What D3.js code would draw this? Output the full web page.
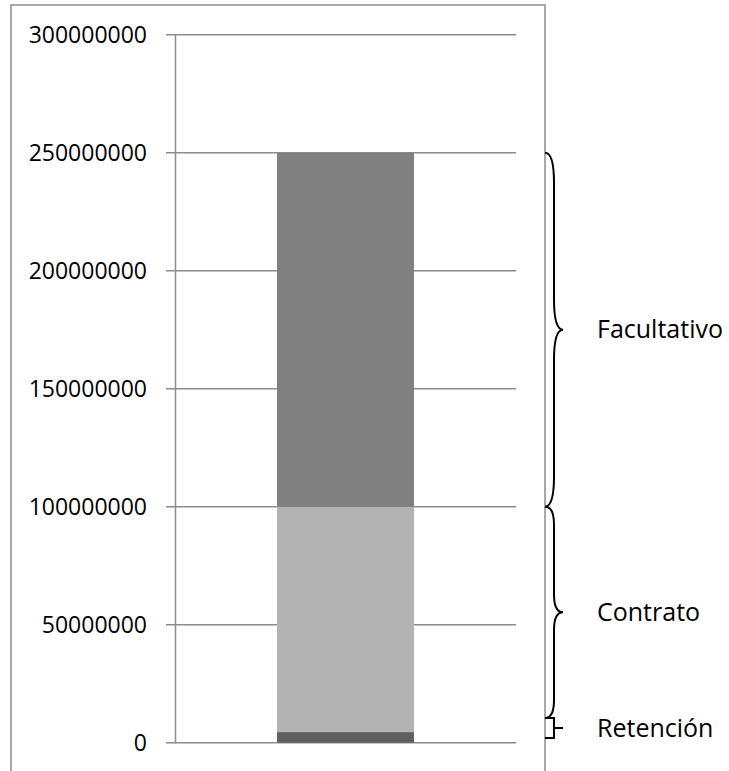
<!DOCTYPE html>
<html>
<head>
<meta charset="utf-8">
<script src="https://cdn.jsdelivr.net/npm/d3@7"></script>
<style>
  html, body { margin: 0; padding: 0; background: #fff; }
  svg { display: block; font-family: "Open Sans", "Noto Sans", sans-serif; }
</style>
</head>
<body>
<svg id="chart" width="729" height="771"></svg>
<script>
// Stacked layers of a single bar (bottom to top)
const categories = ["Total"];
const layers = ["Retención", "Contrato", "Facultativo"];
const retencion = [4500000];
const contrato = [95500000];
const facultativo = [150000000];
const layerColors = ["#606060", "#b3b3b3", "#808080"];

// Y axis ticks
const yTicks = [0, 50000000, 100000000, 150000000, 200000000, 250000000, 300000000];
const yTickLabels = ["0", "50000000", "100000000", "150000000", "200000000", "250000000", "300000000"];

// Bracket annotations on the right: label, lower value, upper value
const braceLabels = ["Facultativo", "Contrato", "Retención"];
const braceFrom = [100000000, 10500000, 2000000];
const braceTo = [250000000, 100000000, 10500000];

const svg = d3.select("#chart");
const plotLeft = 175, plotRight = 516, plotTop = 34.7, plotBottom = 742.7;

// Outer frame
svg.append("rect")
  .attr("x", 11).attr("y", 5)
  .attr("width", 534).attr("height", 800)
  .attr("fill", "none").attr("stroke", "#8c8c8c").attr("stroke-width", 1.5);

const y = d3.scaleLinear().domain([0, 300000000]).range([plotBottom, plotTop]);
const x = d3.scaleBand().domain(categories).range([plotLeft, plotRight]).padding(0.4268);

// Gridlines (including outward tick stubs)
svg.append("g")
  .selectAll("line")
  .data(yTicks)
  .join("line")
  .attr("x1", plotLeft - 9).attr("x2", plotRight)
  .attr("y1", d => y(d)).attr("y2", d => y(d))
  .attr("stroke", "#8c8c8c").attr("stroke-width", 1.5);

// Stacked bar
const rows = categories.map((c, i) => ({
  cat: c,
  "Retención": retencion[i],
  "Contrato": contrato[i],
  "Facultativo": facultativo[i]
}));
const stack = d3.stack().keys(layers)(rows);
svg.append("g")
  .selectAll("g")
  .data(stack)
  .join("g")
  .attr("fill", (d, i) => layerColors[i])
  .selectAll("rect")
  .data(d => d)
  .join("rect")
  .attr("x", d => x(d.data.cat))
  .attr("width", x.bandwidth())
  .attr("y", d => y(d[1]))
  .attr("height", d => y(d[0]) - y(d[1]));

// Y axis
const yAxis = d3.axisLeft(y)
  .tickValues(yTicks)
  .tickFormat((d, i) => yTickLabels[i])
  .tickSize(0)
  .tickPadding(28);
const ga = svg.append("g").attr("transform", `translate(${plotLeft},0)`).call(yAxis);
ga.select(".domain").attr("stroke", "#8c8c8c").attr("stroke-width", 1.5);
ga.selectAll("text")
  .attr("font-family", "'Open Sans', sans-serif")
  .attr("font-size", 23)
  .attr("fill", "#000");

// Braces
const bx0 = 545, bxs = 554, bxt = 563;
function bracePath(v0, v1) {
  const yTop = y(v1), yBot = y(v0), ym = (yTop + yBot) / 2;
  const h = yBot - yTop;
  const r = h > 40 ? Math.min(32, h * 0.085) : 0;
  if (r === 0) {
    return `M${bx0},${yTop}L${bxs},${yTop}L${bxs},${yBot}L${bx0},${yBot}M${bxs},${ym}L${bxt},${ym}`;
  }
  return `M${bx0},${yTop}Q${bxs},${yTop} ${bxs},${yTop + r}` +
    `L${bxs},${ym - r}Q${bxs},${ym} ${bxt},${ym}` +
    `Q${bxs},${ym} ${bxs},${ym + r}` +
    `L${bxs},${yBot - r}Q${bxs},${yBot} ${bx0},${yBot}`;
}
const braces = svg.append("g");
braceLabels.forEach((label, i) => {
  braces.append("path")
    .attr("d", bracePath(braceFrom[i], braceTo[i]))
    .attr("fill", "none").attr("stroke", "#000").attr("stroke-width", 2);
  braces.append("text")
    .attr("x", 597)
    .attr("y", (y(braceFrom[i]) + y(braceTo[i])) / 2)
    .attr("dy", "0.35em")
    .attr("font-size", 25)
    .attr("fill", "#000")
    .text(label);
});
</script>
</body>
</html>
